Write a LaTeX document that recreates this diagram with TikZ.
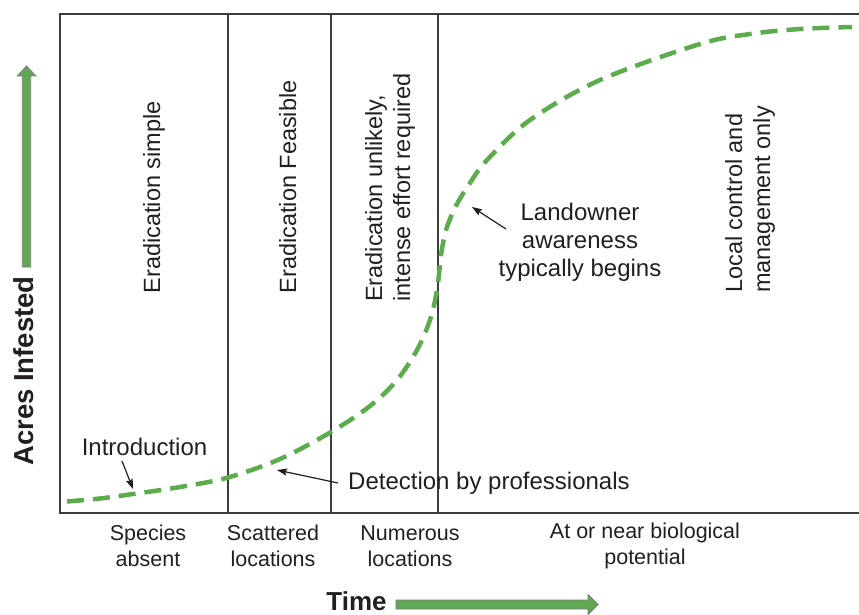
\documentclass[tikz,border=0pt]{standalone}
\usepackage{fontspec}
\setmainfont{Liberation Sans}
\usetikzlibrary{arrows.meta}
\definecolor{curvegreen}{RGB}{92,172,78}
\definecolor{arrowgreen}{RGB}{95,168,82}
\definecolor{edgegray}{RGB}{125,125,125}
\definecolor{framegray}{RGB}{60,60,60}
\definecolor{ink}{RGB}{35,31,32}
\begin{document}
\begin{tikzpicture}[x=1pt,y=-1pt,
  txt/.style={font=\fontsize{23.5}{28}\selectfont, text=ink, inner sep=0pt},
  ntxt/.style={font=\fontsize{24}{28}\selectfont, text=ink, inner sep=0pt},
  btxt/.style={font=\fontsize{21.5}{26}\selectfont, text=ink, inner sep=0pt, align=center},
  axlabel/.style={font=\fontsize{26}{30}\selectfont\bfseries, text=ink, inner sep=0pt},
  frameline/.style={draw=framegray, line width=1.3pt},
  growth/.style={draw=curvegreen, line width=4.5pt, dash pattern=on 17pt off 9pt},
  pointer/.style={draw=ink, line width=1.2pt, -{Stealth[length=10pt,width=7pt,inset=1.5pt]}},
  bigarrow/.style={fill=arrowgreen, draw=edgegray, line width=0.8pt}]
\useasboundingbox (0,0) rectangle (859,615);

% frame and stage dividers
\draw[frameline] (859,14) -- (60,14) -- (60,513) -- (859,513);
\draw[frameline] (228,14) -- (228,513);
\draw[frameline] (331,14) -- (331,513);
\draw[frameline] (438,14) -- (438,513);

% growth curve
\draw[growth] plot[smooth, tension=0.55] coordinates {
  (67,501.5) (100,498.5) (133,494) (180,487) (228,477.5) (280,459)
  (331,432) (370,406) (397,380) (417,350) (430,320) (437,290)
  (441.5,252) (447,227) (457,204) (470,183) (487,160) (530,120)
  (600,80) (700,44) (750,34) (800,29) (852,27)};

% stage texts (rotated)
\node[txt, rotate=90, anchor=base west] (simple) at (160,293.5) {Eradication simple};
\node[txt, rotate=90, anchor=base west] (feasible) at (296,293.5) {Eradication Feasible};
\node[txt, rotate=90, anchor=north west, align=left] (unlikely) at (365,302)
  {Eradication unlikely,\\intense effort required};
\node[txt, rotate=90, anchor=north west, align=left] (local) at (725,293)
  {Local control and\\management only};

% annotations
\node[ntxt, anchor=base] (intro) at (144.5,455) {Introduction};
\node[ntxt, anchor=base west] (detect) at (348,489) {Detection by professionals};
\node[ntxt, align=center] (landowner) at (580,242) {Landowner\\awareness\\typically begins};

\coordinate (introTail) at (122,461);
\coordinate (introTip) at (133,489);
\coordinate (detectTail) at (338,483);
\coordinate (detectTip) at (277,470);
\coordinate (landTail) at (506,229);
\coordinate (landTip) at (472,207);
\draw[pointer] (introTail) -- (introTip);
\draw[pointer] (detectTail) -- (detectTip);
\draw[pointer] (landTail) -- (landTip);

% bottom stage labels
\node[btxt] (absent) at (148,546) {Species\\absent};
\node[btxt] (scattered) at (273,546) {Scattered\\locations};
\node[btxt] (numerous) at (410,546) {Numerous\\locations};
\node[btxt] (potential) at (645,546) {At or near biological\\potential};

% axis labels
\node[axlabel, anchor=base] (time) at (356.5,610.5) {Time};
\node[axlabel, font=\fontsize{27.5}{32}\selectfont\bfseries, rotate=90] (acres) at (24,371) {Acres Infested};

% axis arrows
\draw[bigarrow] (22.3,267) -- (22.3,76) -- (17.3,76) -- (26.5,66) -- (36,76) -- (30.7,76) -- (30.7,267) -- cycle;
\draw[bigarrow] (396,600) -- (588,600) -- (588,594.5) -- (598,604.5) -- (588,614.5) -- (588,609) -- (396,609) -- cycle;
\end{tikzpicture}
\end{document}
